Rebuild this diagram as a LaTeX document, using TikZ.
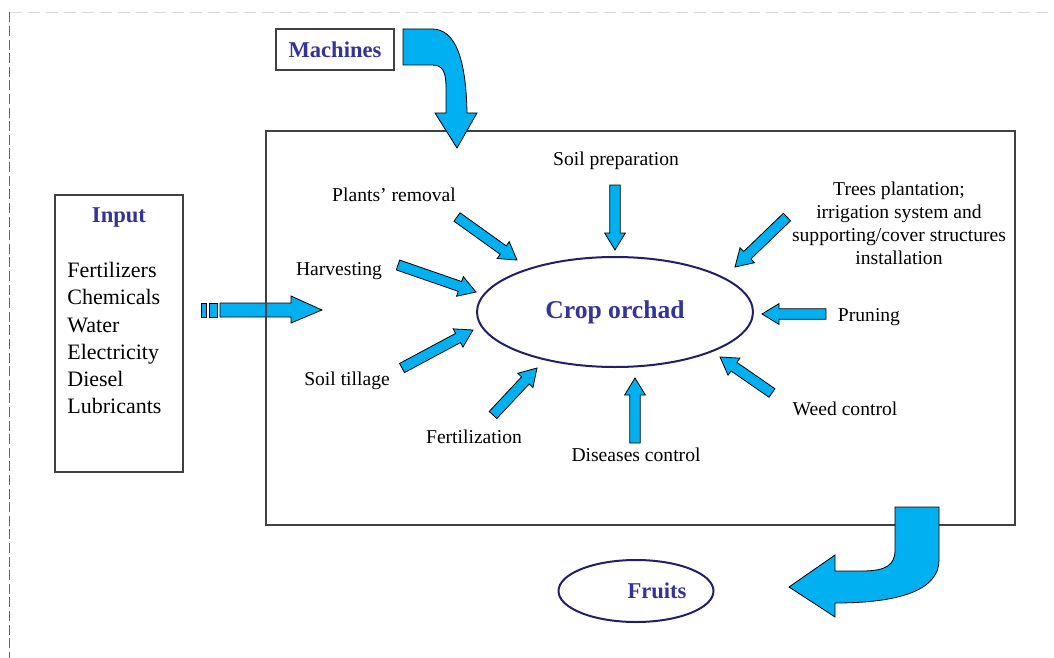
\documentclass[tikz,border=0pt]{standalone}
\usepackage{fontspec}
\setmainfont{Liberation Serif}
\usetikzlibrary{calc,shapes.geometric}
\definecolor{arrowblue}{RGB}{0,176,240}
\definecolor{titleblue}{RGB}{51,51,153}
\definecolor{ringblue}{RGB}{32,32,104}
\definecolor{boxgrey}{RGB}{64,64,64}

% straight block arrow from tail #1 to tip #2
\newcommand\blockarrow[2]{%
  \coordinate (ah) at ($(#2)!8.5pt!(#1)$);
  \draw[blockarrow] ($(#1)!2.6pt!90:(#2)$) -- ($(ah)!2.6pt!90:(#2)$)
    -- ($(ah)!5.2pt!90:(#2)$) -- (#2) -- ($(ah)!5.2pt!-90:(#2)$)
    -- ($(ah)!2.6pt!-90:(#2)$) -- ($(#1)!2.6pt!-90:(#2)$) -- cycle;}

\begin{document}
\begin{tikzpicture}[
    x=0.5pt, y=-0.5pt,
    every node/.style={inner sep=0pt},
    font=\fontsize{9.8}{11.5}\selectfont,
    blockarrow/.style={draw=black, line width=0.4pt, fill=arrowblue, line join=miter},
    frame/.style={draw=boxgrey, line width=0.75pt},
    title/.style={text=titleblue, font=\fontsize{11.3}{13}\selectfont\bfseries},
    ]
    \useasboundingbox (0,0) rectangle (1054,658);

    % page edges
    \draw[gray!30, dash pattern=on 6pt off 3pt] (9.5,12.5) -- (1054,12.5);
    \draw[gray!80!black, dash pattern=on 5pt off 1.8pt] (9.5,12.5) -- (9.5,658);

    % nodes
    \node[frame, title, minimum width=59pt, minimum height=20.5pt] (machines) at (335,49.5) {Machines};

    \node[frame, minimum width=64pt, minimum height=138.5pt] (input) at (119,333.5) {};
    \node[title] (input-t) at (119,218) {Input};
    \node[anchor=north west, align=left, font=\fontsize{11}{13.6}\selectfont] (input-l) at (67,262)
        {Fertilizers\\Chemicals\\Water\\Electricity\\Diesel\\Lubricants};

    % input arrow
    \draw[blockarrow] (201,303) rectangle (206,317);
    \draw[blockarrow] (209,303) rectangle (217,317);
    \draw[blockarrow] (220,303) -- (291,303) -- (291,296) -- (322,310) -- (291,323)
        -- (291,317) -- (220,317) -- cycle;

    \node[frame, minimum width=374.5pt, minimum height=197pt] (orchard) at (640.5,328) {};

    \node[ellipse, draw=ringblue, line width=1pt, minimum width=138pt, minimum height=55pt,
        text=titleblue, font=\fontsize{12.8}{14}\selectfont\bfseries] (crop) at (615,312) {Crop orchad};

    \node[ellipse, draw=ringblue, line width=1pt, minimum width=77.5pt, minimum height=31pt] (fruits) at (636,591) {};
    \node[title] (fruits-t) at (657,591) {Fruits};

    % labels
    \node (prep-l) at (616,161) {Soil preparation};
    \node (removal-l) at (394,195) {Plants’ removal};
    \node[align=center] (trees-l) at (899,223)
        {Trees plantation;\\irrigation system and\\supporting/cover structures\\installation};
    \node (harvest-l) at (339,271) {Harvesting};
    \node (pruning-l) at (869,317) {Pruning};
    \node (tillage-l) at (347,381) {Soil tillage};
    \node (weed-l) at (845,409) {Weed control};
    \node (fert-l) at (474,437) {Fertilization};
    \node (disease-l) at (636,455) {Diseases control};

    % arrow ends
    \coordinate (prep-s) at (615,185);    \coordinate (prep-e) at (615,250);
    \coordinate (removal-s) at (457,217); \coordinate (removal-e) at (517,260);
    \coordinate (harvest-s) at (398,265); \coordinate (harvest-e) at (476,292);
    \coordinate (tillage-s) at (402,368); \coordinate (tillage-e) at (473,330);
    \coordinate (fert-s) at (493,415);    \coordinate (fert-e) at (537,368);
    \coordinate (disease-s) at (635,443); \coordinate (disease-e) at (635,378);
    \coordinate (weed-s) at (772,393);    \coordinate (weed-e) at (720,357);
    \coordinate (pruning-s) at (826,314); \coordinate (pruning-e) at (762,314);
    \coordinate (trees-s) at (787,217);   \coordinate (trees-e) at (735,267);

    % edges
    \blockarrow{prep-s}{prep-e}
    \blockarrow{removal-s}{removal-e}
    \blockarrow{harvest-s}{harvest-e}
    \blockarrow{tillage-s}{tillage-e}
    \blockarrow{fert-s}{fert-e}
    \blockarrow{disease-s}{disease-e}
    \blockarrow{weed-s}{weed-e}
    \blockarrow{pruning-s}{pruning-e}
    \blockarrow{trees-s}{trees-e}

    % curved arrows
    \draw[blockarrow] (403,29) -- (432,29) .. controls (456,29) and (466,60) .. (467,113)
        -- (477,113) -- (457,148) -- (435,113) -- (446,113) -- (446,88)
        .. controls (446,72) and (443,65) .. (432,65) -- (403,65) -- cycle;

    \draw[blockarrow] (895,507) -- (939,507) -- (939,560) .. controls (939,590) and (900,603) .. (835,603)
        -- (835,617) -- (789,587) -- (835,555) -- (835,571) -- (862,571)
        .. controls (886,571) and (895,565) .. (895,550) -- cycle;

\end{tikzpicture}
\end{document}
